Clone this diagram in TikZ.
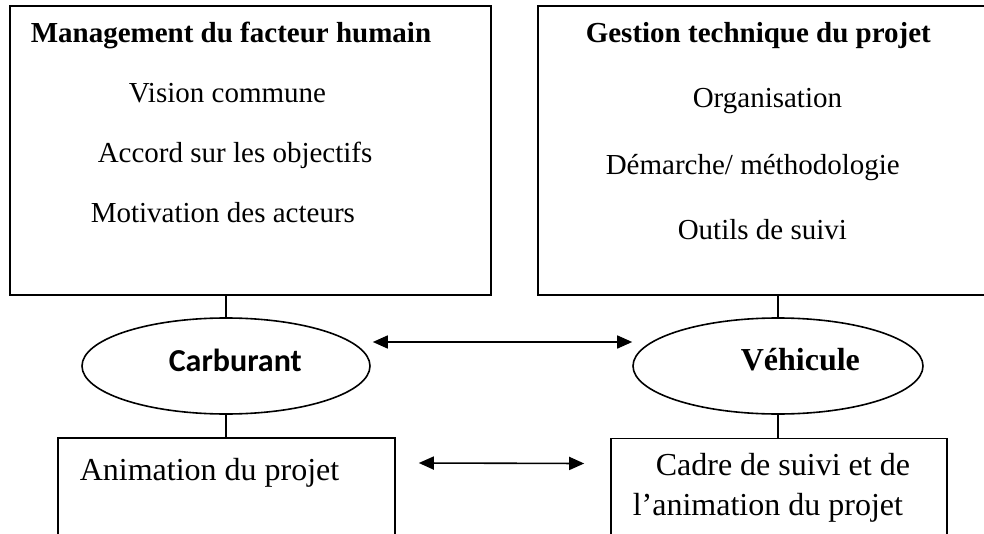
\documentclass[tikz,border=0pt]{standalone}
\usepackage{fontspec}
\setmainfont{Liberation Serif}
\newfontfamily\calib{Carlito}
\usepackage{tikz}
\usetikzlibrary{arrows.meta,shapes.geometric,positioning}

\begin{document}
\begin{tikzpicture}[
  x=0.5pt, y=-0.5pt,
  line width=0.8pt,
  bigbox/.style = {rectangle, draw, minimum height=144.5pt, inner sep=0},
  lowbox/.style = {rectangle, draw, minimum height=55pt, inner sep=0},
  oval/.style   = {ellipse, draw, minimum width=144pt, minimum height=48pt, inner sep=0},
  txt/.style    = {inner sep=0, anchor=base west, font=\fontsize{14.5}{17}\selectfont},
  ttl/.style    = {txt, font=\fontsize{14.5}{17}\selectfont\bfseries},
  lowtxt/.style = {txt, font=\fontsize{16}{19}\selectfont},
  ovtxt/.style  = {inner sep=0, anchor=base west, font=\fontsize{16}{19}\selectfont\bfseries},
  link/.style   = {-},
  both/.style   = {{Triangle[length=7.5pt,width=6.5pt]}-{Triangle[length=7.5pt,width=6.5pt]}}
]
\useasboundingbox (0,0) rectangle (984,534);
\clip (0,0) rectangle (984,534);

% Top boxes
\node[bigbox, minimum width=240.5pt] (mhum) at (250.5,150.5) {};
\node[bigbox, minimum width=231pt]   (gtech) at (769,150.5) {};

\node[ttl] (mhumT) at (30,43)  {Management du facteur humain};
\node[txt] (vis)   at (128,103) {Vision commune};
\node[txt] (acc)   at (97,163)  {Accord sur les objectifs};
\node[txt] (mot)   at (90,223)  {Motivation des acteurs};

\node[ttl] (gtechT) at (585,43)  {Gestion technique du projet};
\node[txt] (org)    at (692,108) {Organisation};
\node[txt] (dem)    at (605,175) {Démarche/ méthodologie};
\node[txt] (outl)   at (677,240) {Outils de suivi};

% Ellipses
\node[oval] (carb) at (226,366) {};
\node[oval, minimum width=145pt] (veh) at (778,366) {};
\node[ovtxt] (carbT) at (168,371) {\calib Carburant};
\node[ovtxt] (vehT)  at (740,370) {Véhicule};

% Bottom boxes
\node[lowbox, minimum width=168.5pt] (anim)  at (226.5,493) {};
\node[lowbox, minimum width=168pt]   (cadre) at (779,493.5) {};
\node[lowtxt] (animT)  at (79,480)  {Animation du projet};
\node[lowtxt] (cadT1)  at (655,475) {Cadre de suivi et de};
\node[lowtxt] (cadT2)  at (632,515) {l’animation du projet};

% Vertical links
\draw[link] (carb.north) -- (carb.north |- mhum.south);
\draw[link] (veh.north) -- (veh.north |- gtech.south);
\draw[link] (carb.south) -- (carb.south |- anim.north);
\draw[link] (veh.south) -- (veh.south |- cadre.north);

% Double arrows
\draw[both] ([shift={(1pt,12pt)}]carb.east) -- ([yshift=12pt]veh.west);
\draw[both] ([shift={(11.5pt,15pt)}]anim.east) -- ([shift={(-13pt,15pt)}]cadre.west);

\end{tikzpicture}
\end{document}
